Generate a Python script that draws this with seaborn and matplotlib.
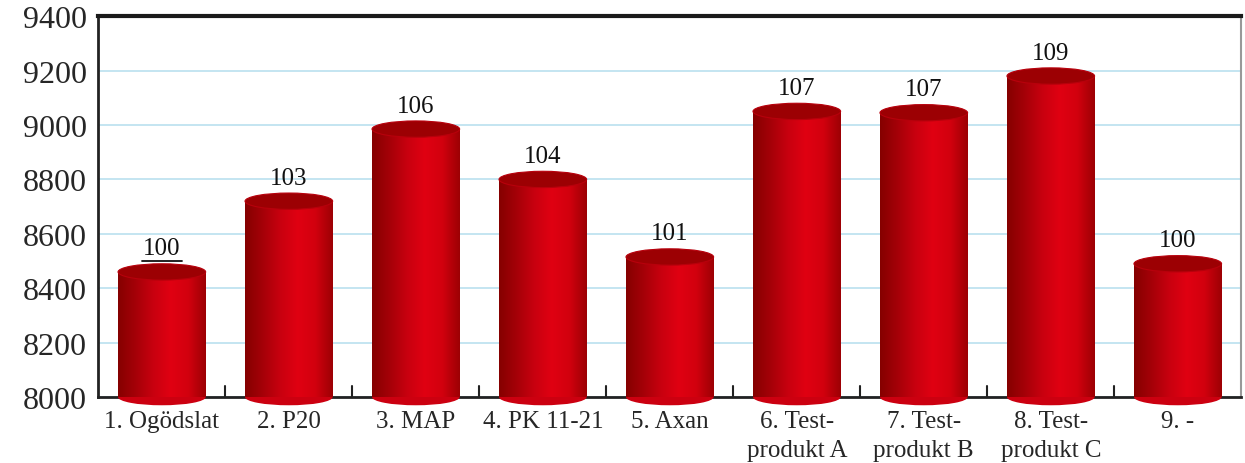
import matplotlib
matplotlib.use("Agg")
import matplotlib.pyplot as plt
import seaborn as sns
import pandas as pd
import numpy as np
from matplotlib.patches import Ellipse
from matplotlib.colors import LinearSegmentedColormap

# Data
categories = ["1. Ogödslat", "2. P20", "3. MAP", "4. PK 11-21", "5. Axan",
              "6. Test-\nprodukt A", "7. Test-\nprodukt B", "8. Test-\nprodukt C", "9. -"]
yields = [8460, 8720, 8985, 8800, 8515, 9050, 9045, 9180, 8490]
relative = [100, 103, 106, 104, 101, 107, 107, 109, 100]

df = pd.DataFrame({"cat": categories, "val": yields, "rel": relative})

sns.set_style("white")
plt.rcParams["font.family"] = ["Liberation Serif", "DejaVu Serif"]

fig, ax = plt.subplots(figsize=(12.45, 4.64), dpi=100)
fig.subplots_adjust(left=0.079, right=0.997, top=0.963, bottom=0.142)

sns.barplot(data=df, x="cat", y="val", color="#c00000", width=0.69, ax=ax,
            saturation=1, zorder=3)

ax.set_ylim(8000, 9400)
ax.set_xlim(-0.5, len(categories) - 0.5)
ax.set_yticks(np.arange(8000, 9401, 200))
ax.yaxis.grid(True, color="#bfe3f0", linewidth=1.3, zorder=0)
ax.set_axisbelow(True)
ax.set_xlabel("")
ax.set_ylabel("")
ax.tick_params(axis="y", labelsize=23, length=0, pad=8)
ax.tick_params(axis="x", labelsize=18, length=0, pad=9)

ax.set_xticks(np.arange(len(categories)))
ax.set_xticklabels(categories, linespacing=1.45, va="top")

# category boundary ticks pointing up from the bottom axis
for b in np.arange(0.5, len(categories) - 0.5, 1):
    ax.plot([b, b], [8000, 8000 + 1400 * 0.028], color="#222222", lw=1.5,
            zorder=4, clip_on=False)

for side in ["left", "bottom"]:
    ax.spines[side].set_color("#222222")
    ax.spines[side].set_linewidth(2)
ax.spines["top"].set_color("#1a1a1a")
ax.spines["top"].set_linewidth(3)
ax.spines["right"].set_color("#999999")
ax.spines["right"].set_linewidth(1.5)

# cylinder look: gradient fill clipped to each bar + ellipse caps
cyl = LinearSegmentedColormap.from_list(
    "cyl", ["#850000", "#a50008", "#c8000f", "#e00012", "#d2000e", "#9c0004"])
grad = np.linspace(0, 1, 256).reshape(1, -1)
ell_h = 60  # in data units

for patch, val, rel in zip(ax.patches, df["val"], df["rel"]):
    x0 = patch.get_x()
    w = patch.get_width()
    im = ax.imshow(grad, cmap=cyl, aspect="auto",
                   extent=[x0, x0 + w, 8000, val], zorder=3.5)
    im.set_clip_path(patch)
    patch.set_edgecolor("none")
    # bottom cap below axis
    bottom = Ellipse((x0 + w / 2, 8000), w, ell_h, facecolor="#cc0010",
                     edgecolor="none", zorder=3.4, clip_on=False)
    ax.add_patch(bottom)
    top = Ellipse((x0 + w / 2, val), w, ell_h, facecolor="#9c0003",
                  edgecolor="#b8000c", linewidth=0.8, zorder=3.6)
    ax.add_patch(top)
    ax.text(x0 + w / 2, val + ell_h / 2 + 16, str(rel), ha="center",
            va="bottom", fontsize=18, color="#111111", zorder=5)

# first label is underlined in the original
first = ax.patches[0]
cx = first.get_x() + first.get_width() / 2
ax.plot([cx - 0.16, cx + 0.16], [df["val"][0] + ell_h / 2 + 12] * 2,
        color="#111111", lw=1.3, zorder=5)

fig.savefig("out.png", dpi=100)
